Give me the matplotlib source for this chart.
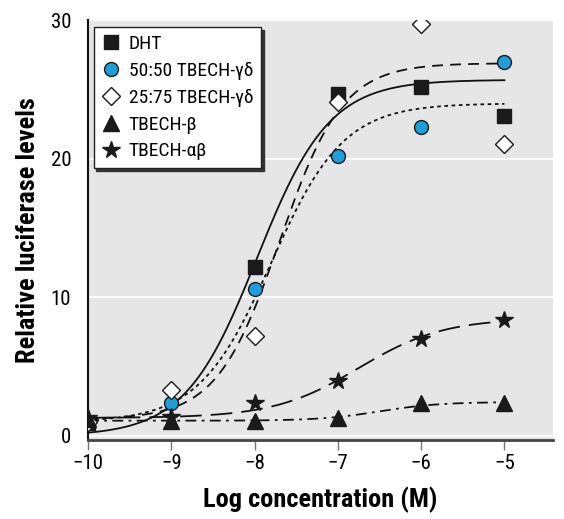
import numpy as np
import matplotlib
matplotlib.use("Agg")
import matplotlib.pyplot as plt

plt.rcParams['font.family'] = ['Roboto Condensed', 'Archivo Narrow', 'DejaVu Sans']

# measured points
log_conc = [-10, -9, -8, -7, -6, -5]
dht = [0.9, None, 12.2, 24.7, 25.2, 23.1]
mix_50 = [1.0, 2.4, 10.6, 20.2, 22.3, 27.0]
mix_25 = [1.0, 3.3, 7.2, 24.1, 29.7, 21.1]
tbech_b = [1.2, 1.1, 1.1, 1.3, 2.4, 2.4]
tbech_ab = [1.3, 1.4, 2.4, 4.0, 7.0, 8.4]

# fitted sigmoid parameters: bottom, top, logEC50, hill
fit_dht = [0.0, 25.7, -7.97, 1.0]
fit_50 = [1.2, 26.9, -7.7, 1.15]
fit_25 = [1.0, 24.0, -7.8, 1.0]
fit_b = [1.1, 2.45, -6.5, 1.2]
fit_ab = [1.3, 8.5, -6.75, 0.85]

labels = ['DHT', '50:50 TBECH-γδ', '25:75 TBECH-γδ', 'TBECH-β', 'TBECH-αβ']


def sigmoid(x, p):
    bottom, top, ec50, hill = p
    return bottom + (top - bottom) / (1 + 10 ** ((ec50 - x) * hill))


fig = plt.figure(figsize=(5.64, 5.19), dpi=100)
ax = fig.add_axes([0.156, 0.152, 0.824, 0.809])
ax.set_facecolor('#e6e6e6')

xs = np.linspace(-10, -5, 300)
ax.plot(xs, sigmoid(xs, fit_dht), color='#111111', lw=1.3, ls='-', zorder=2)
ax.plot(xs, sigmoid(xs, fit_50), color='#111111', lw=1.3, ls=(0, (6, 4)), zorder=2)
ax.plot(xs, sigmoid(xs, fit_25), color='#111111', lw=1.3, ls=(0, (2, 2)), zorder=2)
ax.plot(xs, sigmoid(xs, fit_b), color='#111111', lw=1.3, ls=(0, (6, 3, 1.5, 3)), zorder=2)
ax.plot(xs, sigmoid(xs, fit_ab), color='#111111', lw=1.3, ls=(0, (12, 5)), zorder=2)


def pts(vals):
    x = [c for c, v in zip(log_conc, vals) if v is not None]
    y = [v for v in vals if v is not None]
    return x, y


ms = 10
h = []
h.append(ax.plot(*pts(dht), 's', color='#1a1a1a', mec='#1a1a1a', ms=ms, zorder=4, label=labels[0])[0])
h.append(ax.plot(*pts(mix_50), 'o', color='#1e9fd9', mec='#1a1a1a', mew=1, ms=ms, zorder=4, label=labels[1])[0])
h.append(ax.plot(*pts(mix_25), 'D', color='white', mec='#1a1a1a', mew=1, ms=9, zorder=4, label=labels[2])[0])
h.append(ax.plot(*pts(tbech_b), '^', color='#1a1a1a', mec='#1a1a1a', ms=11, zorder=4, label=labels[3])[0])
h.append(ax.plot(*pts(tbech_ab), '*', color='#1a1a1a', mec='#1a1a1a', ms=13, zorder=4, label=labels[4])[0])

ax.set_xlim(-10, -4.42)
ax.set_ylim(-0.3, 30)
ax.set_xticks(log_conc)
ax.set_xticklabels(['\u2212%d' % abs(v) for v in log_conc])
ax.set_yticks([0, 10, 20, 30])

ax.grid(axis='y', color='white', lw=1.3)
ax.set_axisbelow(True)
for s in ['top', 'right']:
    ax.spines[s].set_visible(False)
ax.spines['left'].set_color('#111111')
ax.spines['left'].set_linewidth(1.5)
ax.spines['bottom'].set_color('#444444')
ax.spines['bottom'].set_linewidth(2)
ax.tick_params(axis='x', direction='out', length=7, width=1, color='#777777', labelsize=15, pad=3)
ax.tick_params(axis='y', length=0, labelsize=15, pad=12)

ax.set_xlabel('Log concentration (M)', fontsize=19, fontweight='bold', labelpad=10)
ax.set_ylabel('Relative luciferase levels', fontsize=19, fontweight='bold', labelpad=8)

leg = ax.legend(handles=h, loc='upper left', bbox_to_anchor=(0.012, 0.983),
                fontsize=14, frameon=True, fancybox=False, shadow={'color': '#333333', 'alpha': 1},
                handlelength=1.0, handletextpad=0.4, borderpad=0.4, labelspacing=0.45,
                borderaxespad=0)
leg.get_frame().set_edgecolor('#222222')
leg.get_frame().set_linewidth(1)

fig.savefig('out.png', dpi=100)
